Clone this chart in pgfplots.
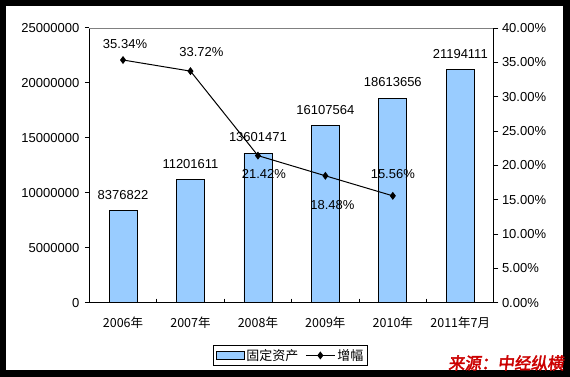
\documentclass[border=0pt]{standalone}
\usepackage{pgfplots}
\pgfplotsset{compat=1.18}
\usepackage{fontspec}
\setmainfont{Liberation Sans}
\newfontfamily\cjk{Noto Sans CJK SC}
\newfontfamily\cjksrc{Noto Sans CJK SC}[FakeBold=2.5,FakeSlant=0.12]
\definecolor{barblue}{HTML}{99CCFF}
\definecolor{srcred}{HTML}{CC0000}
\pgfplotsset{barlegend/.style={legend image code/.code={\draw[##1] (0bp,-4bp) rectangle (28bp,4bp);}},
  linelegend/.style={legend image code/.code={\draw[mark repeat=2,mark phase=2,##1] plot coordinates {(0bp,0bp) (14.5bp,0bp) (29bp,0bp)};}}}
\begin{document}
\begin{tikzpicture}
\fill[black] (0bp,0bp) rectangle (570bp,377bp);
\fill[white] (6bp,7bp) rectangle (563bp,371bp);
\useasboundingbox (0bp,0bp) rectangle (570bp,377bp);
\begin{axis}[
  at={(89.3bp,74.3bp)}, anchor=south west,
  scale only axis, width=404.7bp, height=274.7bp,
  xmin=-0.5, xmax=5.5, ymin=0, ymax=25000000,
  axis x line*=bottom, axis y line*=left,
  axis line style={-, line width=1bp, black},
  tick align=outside, major tick length=4.5bp,
  xtick={0,...,5},
  xticklabels={2006年,2007年,2008年,2009年,2010年,2011年7月},
  xticklabel style={font=\cjk\fontsize{12.5bp}{14bp}\selectfont, yshift=-6bp},
  every major x tick/.append style={draw=none},
  minor xtick={0.5,1.5,2.5,3.5,4.5},
  minor tick length=-4bp,
  every minor x tick/.append style={draw=black, line width=1bp},
  ytick={0,5000000,10000000,15000000,20000000,25000000},
  yticklabels={0,5000000,10000000,15000000,20000000,25000000},
  ytick style={draw=black, line width=1bp},
  yticklabel style={font=\fontsize{13bp}{15bp}\selectfont, xshift=-2bp},
  scaled y ticks=false,
  clip=false,
]
\addplot[ybar, bar width=28bp, fill=barblue, draw=black, line width=0.8bp,
  nodes near coords, point meta=explicit symbolic,
  every node near coord/.append style={font=\fontsize{13bp}{15bp}\selectfont, inner sep=0pt, anchor=south, yshift=11bp}]
  coordinates {
  (0,8376822) [8376822]
  (1,11201611) [11201611]
  (2,13601471) [13601471]
  (3,16107564) [16107564]
  (4,18613656) [18613656]
  (5,21194111) [21194111]
  };
\end{axis}
\begin{axis}[
  at={(89.3bp,74.3bp)}, anchor=south west,
  scale only axis, width=404.7bp, height=274.7bp,
  xmin=-0.5, xmax=5.5, ymin=0, ymax=40,
  axis x line*=top, axis y line*=right,
  axis line style={-, line width=1bp, black},
  x axis line style={draw=gray},
  xtick=\empty,
  tick align=outside, major tick length=4.5bp,
  ytick={0,5,...,40},
  yticklabels={0.00\%,5.00\%,10.00\%,15.00\%,20.00\%,25.00\%,30.00\%,35.00\%,40.00\%},
  ytick style={draw=black, line width=1bp},
  yticklabel style={font=\fontsize{13bp}{15bp}\selectfont},
  clip=false,
  legend columns=-1,
  legend style={at={(0.497,-0.192)}, anchor=center, draw=black, line width=1bp, fill=white,
    font=\cjk\fontsize{13bp}{15bp}\selectfont, inner sep=2bp,
    /tikz/every even column/.append style={column sep=5bp}},
]
\addlegendimage{barlegend, fill=barblue, draw=black, line width=0.8bp}
\addlegendentry{固定资产}
\addplot[black, line width=1bp, mark=diamond*, mark size=3.2bp,
  mark options={solid, fill=black}, linelegend,
  nodes near coords={\pgfplotspointmeta\%}, point meta=explicit symbolic,
  visualization depends on={\thisrow{dx} \as \lblx},
  visualization depends on={\thisrow{dy} \as \lbly},
  every node near coord/.append style={font=\fontsize{13bp}{15bp}\selectfont, inner sep=0pt, anchor=center, xshift=\lblx bp, yshift=\lbly bp}]
  table[x=x, y=y, meta=lab] {
  x y lab dx dy
  0 35.34 35.34 2 16
  1 33.72 33.72 11 19
  2 21.42 21.42 6 -18
  3 18.48 18.48 7 -29
  4 15.56 15.56 0 22
  };
\addlegendentry{增幅}
\end{axis}
\node[text=srcred] at (506bp,14bp) {\cjksrc\fontsize{16.5bp}{18bp}\selectfont 来源：中经纵横};
\end{tikzpicture}
\end{document}
